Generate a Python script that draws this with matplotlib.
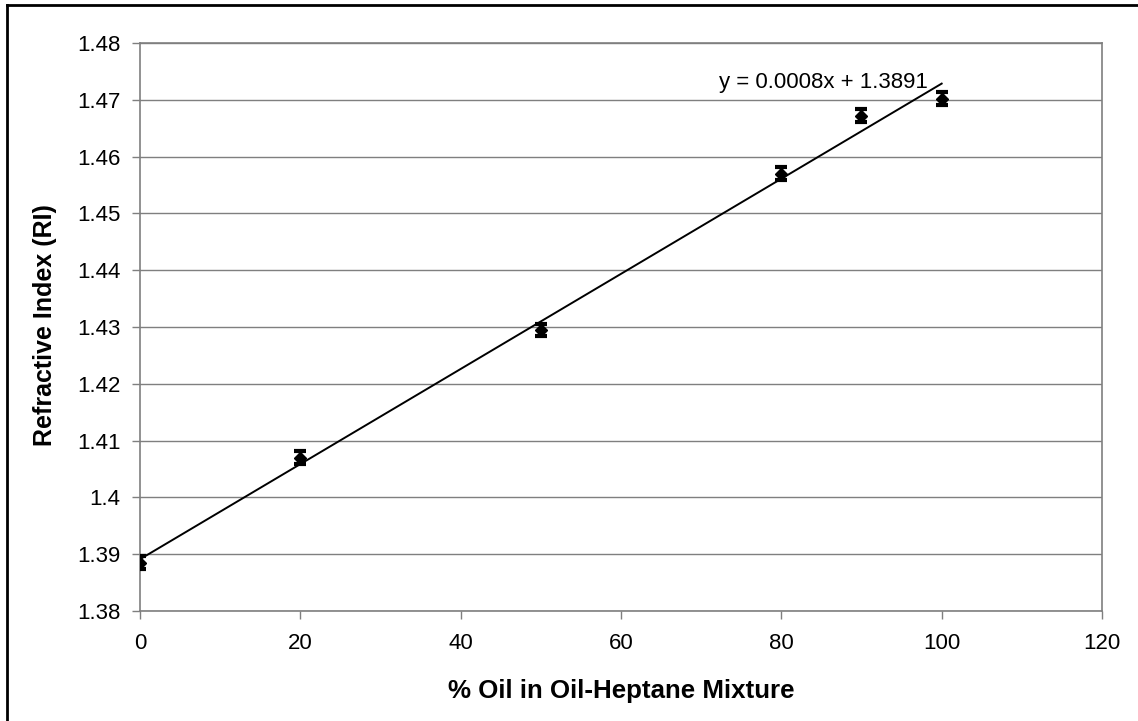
import numpy as np
import matplotlib
matplotlib.use("Agg")
import matplotlib.pyplot as plt
from matplotlib.lines import Line2D

plt.rcParams['font.family'] = ['Liberation Sans', 'DejaVu Sans']

# Oil fraction (%) and measured refractive index with uncertainty
oil_pct = [0, 20, 50, 80, 90, 100]
refr_index = [1.3885, 1.4070, 1.4295, 1.4570, 1.4672, 1.4702]
ri_err = [0.0011, 0.0011, 0.0011, 0.0011, 0.0011, 0.0011]

x_ticks = [0, 20, 40, 60, 80, 100, 120]
y_ticks = [1.38, 1.39, 1.40, 1.41, 1.42, 1.43, 1.44, 1.45, 1.46, 1.47, 1.48]
y_tick_labels = ["1.38", "1.39", "1.4", "1.41", "1.42", "1.43", "1.44",
                 "1.45", "1.46", "1.47", "1.48"]

fig = plt.figure(figsize=(11.38, 7.21), dpi=100)
ax = fig.add_axes([140 / 1138, 1 - 611 / 721, 962 / 1138, 568 / 721])

grey = "#7f7f7f"

# linear trendline through the measurements
slope, intercept = np.polyfit(oil_pct, refr_index, 1)
xs = np.array([min(oil_pct), max(oil_pct)])
ax.plot(xs, slope * xs + intercept, color="black", lw=1.4, zorder=3)

ax.errorbar(oil_pct, refr_index, yerr=ri_err, fmt="D", color="black",
            ms=6.5, ecolor="black", elinewidth=2.4, capsize=4,
            capthick=3, zorder=4)

ax.text(98.3, 1.4721, f"y = {slope:.4f}x + {intercept:.4f}",
        ha="right", va="baseline", fontsize=16)

ax.set_xlim(0, 120)
ax.set_ylim(1.38, 1.48)
ax.set_xticks(x_ticks)
ax.set_yticks(y_ticks)
ax.set_yticklabels(y_tick_labels)
ax.grid(axis="y", color=grey, lw=1.0)
ax.set_axisbelow(True)

for s in ax.spines.values():
    s.set_color(grey)
    s.set_linewidth(1.2)

ax.tick_params(axis="both", direction="out", length=6, width=1.0,
               color=grey, labelsize=16)
ax.tick_params(axis="x", pad=10)
ax.tick_params(axis="y", pad=8)

ax.set_xlabel("% Oil in Oil-Heptane Mixture", fontsize=18.6,
              fontweight="bold")
ax.set_ylabel("Refractive Index (RI)", fontsize=18,
              fontweight="bold")
ax.xaxis.set_label_coords(0.5, -0.141)
ax.yaxis.set_label_coords(-0.0988, 0.503)
ax.xaxis.label.set_va("center")
ax.yaxis.label.set_va("center")

# outer frame: top and left edges
fig.add_artist(Line2D([7 / 1138, 1.0], [1 - 5 / 721, 1 - 5 / 721],
                      transform=fig.transFigure, color="black", lw=2))
fig.add_artist(Line2D([7 / 1138, 7 / 1138], [0.0, 1 - 5 / 721],
                      transform=fig.transFigure, color="black", lw=2))

fig.savefig("out.png", dpi=100)
